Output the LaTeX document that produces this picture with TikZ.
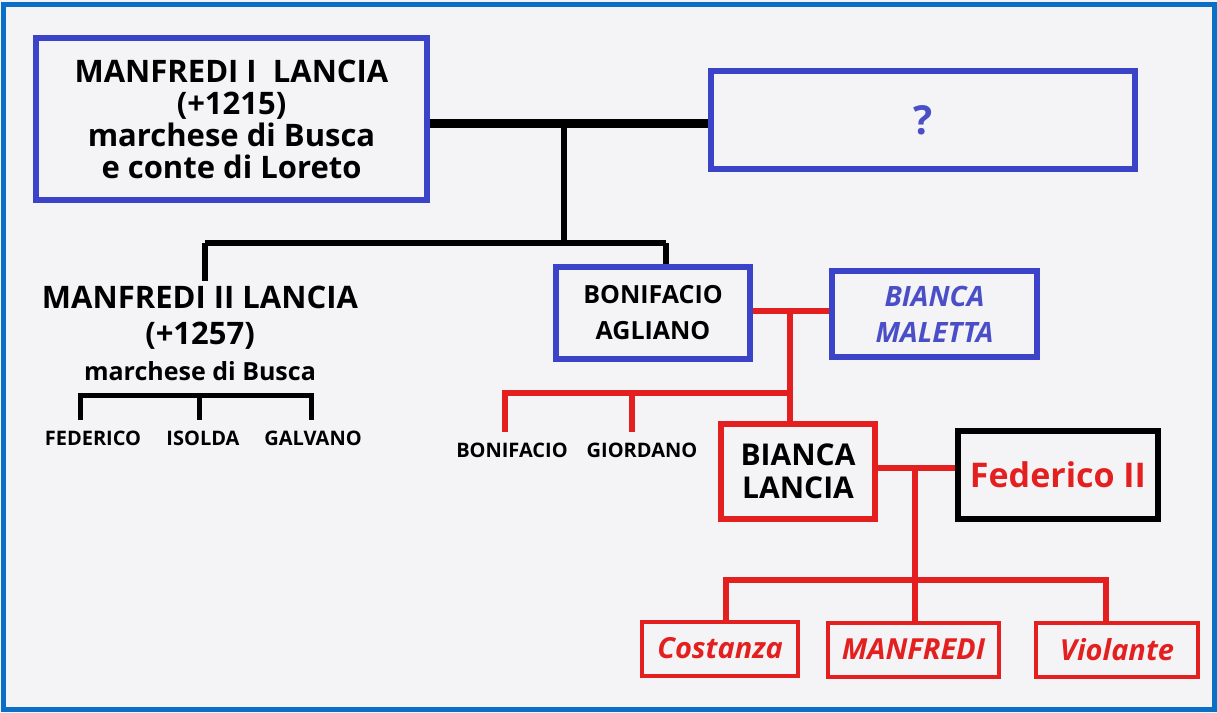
\documentclass[tikz,border=0pt]{standalone}
\usepackage{fontspec}
\setmainfont{Open Sans}
\definecolor{frameblue}{HTML}{0A6FC6}
\definecolor{boxblue}{HTML}{3B43C9}
\definecolor{txtblue}{HTML}{4A4FC8}
\definecolor{famred}{HTML}{E3201F}
\definecolor{paper}{HTML}{F4F4F6}
\tikzset{
	bluebox/.style={draw=boxblue, line width=3pt, align=center, inner sep=0pt, font=\bfseries},
	redbox/.style={draw=famred, line width=3pt, align=center, inner sep=0pt, font=\bfseries},
	childbox/.style={draw=famred, line width=2pt, align=center, inner sep=0pt, text=famred,
		font=\bfseries\itshape\fontsize{14.5}{15}\selectfont, minimum height=27pt},
	kin/.style={inner sep=5pt, font=\bfseries\fontsize{10}{11}\selectfont},
	blackline/.style={line width=3pt},
	redline/.style={draw=famred, line width=3pt}
}
\begin{document}
\begin{tikzpicture}[x=0.5pt,y=-0.5pt]
	\useasboundingbox (0,0) rectangle (1217,713);
	\fill[paper] (0,0) rectangle (1217,713);
	\draw[frameblue, line width=2.5pt] (3,4) rectangle (1214,709);
	
	\node[bluebox, minimum width=195.5pt, minimum height=81pt, font=\bfseries\fontsize{15.5}{16}\selectfont] (m1) at (231.5,119)
		{MANFREDI I\ \ LANCIA\\(+1215)\\marchese di Busca\\e conte di Loreto};
	\node[bluebox, minimum width=212pt, minimum height=49pt, text=txtblue, font=\bfseries\fontsize{20}{21}\selectfont] (q) at (923,120) {?};
	\node[align=center, inner sep=2pt, font=\bfseries\fontsize{15.5}{18}\selectfont] (m2) at (200,333)
		{MANFREDI II LANCIA\\(+1257)\\{\fontsize{12.5}{14}\selectfont marchese di Busca}};
	\node[bluebox, minimum width=97pt, minimum height=46pt, font=\bfseries\fontsize{12.5}{18}\selectfont] (bon) at (653,313) {BONIFACIO\\AGLIANO};
	\node[bluebox, minimum width=102.5pt, minimum height=43pt, text=txtblue, font=\bfseries\itshape\fontsize{14}{18}\selectfont] (mal) at (934.5,314) {BIANCA\\MALETTA};
	\node[redbox, minimum width=77pt, minimum height=47.5pt, font=\bfseries\fontsize{15}{16.5}\selectfont] (bl) at (798,471.5) {BIANCA\\LANCIA};
	\node[draw, line width=3pt, minimum width=100pt, minimum height=44pt, text=famred, font=\bfseries\fontsize{17}{18}\selectfont] (fed) at (1058,475) {Federico II};
	
	\node[kin] (fe) at (93,438) {FEDERICO};
	\node[kin] (is) at (203,438) {ISOLDA};
	\node[kin] (ga) at (313,438) {GALVANO};
	\node[kin] (bo) at (512,450) {BONIFACIO};
	\node[kin] (gi) at (642,450) {GIORDANO};
	
	\node[childbox, minimum width=78pt] (co) at (720,648.5) {Costanza};
	\node[childbox, minimum width=85.5pt] (ma) at (913.5,649.5) {MANFREDI};
	\node[childbox, minimum width=81pt] (vi) at (1117,649.5) {Violante};
	
	% Manfredi I
	\coordinate (j1) at (564,123);
	\coordinate (j2) at (564,243);
	\coordinate (j3) at (205,243);
	\coordinate (j4) at (666,243);
	\draw[line width=4.5pt] (m1.east |- j1) -- (q.west |- j1);
	\draw[blackline] (j1) -- (j2);
	\draw[blackline] (j3) -- (j4);
	\draw[blackline] (j3) -- (j3 |- m2.north);
	\draw[blackline] (j4) -- (j4 |- bon.north);
	
	\coordinate (k1) at (80,395);
	\coordinate (k2) at (199,395);
	\coordinate (k3) at (311,395);
	\draw[line width=2.5pt] (k1 |- fe.north) -- (k1) -- (k3) -- (k3 |- ga.north);
	\draw[line width=2.5pt] (k2) -- (k2 |- is.north);
	
	% Bonifacio
	\coordinate (r1) at (790,311);
	\coordinate (r2) at (790,393);
	\coordinate (r3) at (505,393);
	\coordinate (r4) at (632,393);
	\draw[redline] (bon.east |- r1) -- (mal.west |- r1);
	\draw[redline] (r1) -- (r1 |- bl.north);
	\draw[redline] (r3 |- bo.north) -- (r3) -- (r2);
	\draw[redline] (r4) -- (r4 |- gi.north);
	
	% Bianca
	\coordinate (r5) at (915,468);
	\coordinate (r6) at (915,580);
	\coordinate (r7) at (726,580);
	\coordinate (r8) at (1106,580);
	\draw[redline] (bl.east |- r5) -- (fed.west |- r5);
	\draw[redline] (r5) -- (r6);
	\draw[redline] (r7 |- co.north) -- (r7) -- (r8) -- (r8 |- vi.north);
	\draw[redline] (r6) -- (r6 |- ma.north);
\end{tikzpicture}
\end{document}
